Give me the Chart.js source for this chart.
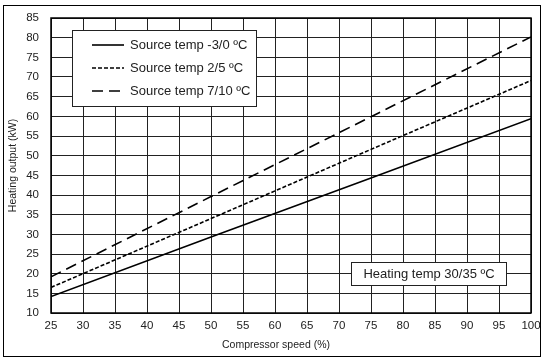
<!DOCTYPE html>
<html><head><meta charset="utf-8">
<script src="https://cdn.jsdelivr.net/npm/chart.js@4"></script>
<style>html,body{margin:0;padding:0;background:#fff}canvas{display:block}</style>
</head><body>
<canvas id="c" width="543" height="359"></canvas>
<script>
const speeds = [25, 50, 75, 100];
const sourceMinus3 = [14.2, 29.3, 44.3, 59.4];
const source2 = [16.5, 34.0, 51.6, 69.1];
const source7 = [19.2, 39.6, 59.9, 80.2];
const seriesLabels = ['Source temp -3/0 ºC', 'Source temp 2/5 ºC', 'Source temp 7/10 ºC'];
const xTicks = [25,30,35,40,45,50,55,60,65,70,75,80,85,90,95,100];
const yTicks = [10,15,20,25,30,35,40,45,50,55,60,65,70,75,80,85];
const noteText = 'Heating temp 30/35 ºC';
const xTitle = 'Compressor speed (%)';
const yTitle = 'Heating output (kW)';

const FONT = '"Liberation Sans", Arial, sans-serif';
const dashes = [[], [4, 2], [11, 6]];

const mk = (vals, i) => ({
  label: seriesLabels[i],
  data: speeds.map((s, k) => ({x: s, y: vals[k]})),
  borderColor: '#000', borderWidth: 1.6, borderDash: dashes[i],
  pointRadius: 0, fill: false, tension: 0
});

const overlay = {
  id: 'overlay',
  beforeDraw(chart) {
    const ctx = chart.ctx;
    ctx.save();
    ctx.fillStyle = '#fff';
    ctx.fillRect(0, 0, chart.width, chart.height);
    ctx.strokeStyle = '#000'; ctx.lineWidth = 1;
    ctx.strokeRect(3.5, 5.5, 537, 351);
    ctx.restore();
  },
  afterDraw(chart) {
    const ctx = chart.ctx, a = chart.chartArea;
    ctx.save();
    ctx.strokeStyle = '#000'; ctx.lineWidth = 1.5;
    ctx.strokeRect(a.left, a.top, a.right - a.left, a.bottom - a.top);
    // x axis title
    ctx.fillStyle = '#222';
    ctx.font = '10.5px ' + FONT;
    ctx.textAlign = 'center'; ctx.textBaseline = 'middle';
    ctx.fillText(xTitle, 276, 345);
    ctx.textAlign = 'left';
    // legend box
    ctx.fillStyle = '#fff';
    ctx.lineWidth = 1;
    ctx.fillRect(72, 30, 184, 76);
    ctx.strokeStyle = '#222';
    ctx.strokeRect(72.5, 30.5, 184, 76);
    ctx.font = '13px ' + FONT;
    const rows = [45, 68, 91];
    seriesLabels.forEach((t, i) => {
      ctx.strokeStyle = '#000'; ctx.lineWidth = 1.6;
      ctx.setLineDash(dashes[i]);
      ctx.beginPath(); ctx.moveTo(92, rows[i]); ctx.lineTo(124, rows[i]); ctx.stroke();
      ctx.setLineDash([]);
      ctx.fillStyle = '#222';
      ctx.fillText(t, 130, rows[i] + 0.5);
    });
    // note box
    ctx.fillStyle = '#fff';
    ctx.fillRect(351, 262, 156, 24);
    ctx.strokeStyle = '#222'; ctx.lineWidth = 1;
    ctx.strokeRect(351.5, 262.5, 155, 23);
    ctx.fillStyle = '#222';
    ctx.textAlign = 'center';
    ctx.fillText(noteText, 429, 274.5);
    ctx.restore();
  }
};

new Chart(document.getElementById('c'), {
  type: 'line',
  data: { datasets: [mk(sourceMinus3, 0), mk(source2, 1), mk(source7, 2)] },
  options: {
    responsive: false, animation: false,
    layout: { padding: { left: 3, right: 12, top: 18, bottom: 0 } },
    plugins: { legend: { display: false }, tooltip: { enabled: false } },
    scales: {
      x: {
        type: 'linear', min: 25, max: 100,
        afterBuildTicks: s => { s.ticks = xTicks.map(v => ({value: v})); },
        afterFit: s => { s.height = 46; s.paddingLeft = 0; s.paddingRight = 0; },
        grid: { color: '#222', lineWidth: 1, drawTicks: false },
        border: { display: false },
        ticks: { color: '#222', font: { family: FONT, size: 11.5 }, padding: 6, maxRotation: 0, autoSkip: false },
        title: { display: false }
      },
      y: {
        min: 10, max: 85,
        afterBuildTicks: s => { s.ticks = yTicks.map(v => ({value: v})); },
        afterFit: s => { s.width = 48; s.paddingTop = 0; s.paddingBottom = 0; },
        grid: { color: '#222', lineWidth: 1, drawTicks: false },
        border: { display: false },
        ticks: { color: '#222', font: { family: FONT, size: 11.5 }, padding: 12, autoSkip: false },
        title: { display: true, text: yTitle, color: '#222', font: { family: FONT, size: 10.5 }, padding: { top: 4, bottom: 0 } }
      }
    }
  },
  plugins: [overlay]
});
</script>
</body></html>
